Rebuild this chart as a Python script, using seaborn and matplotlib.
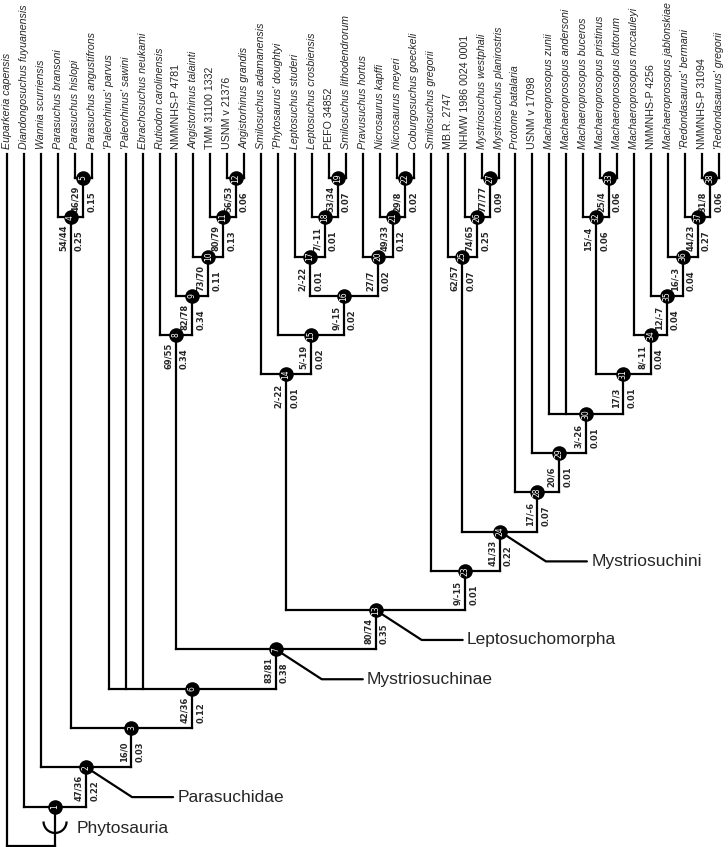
import matplotlib
matplotlib.use("Agg")
import matplotlib.pyplot as plt
import seaborn as sns
import pandas as pd
from matplotlib.patches import Arc

# tips, left to right
taxa = [
    "Euparkeria capensis", "Diandongosuchus fuyuanensis", "Wannia scurriensis",
    "Parasuchus bransoni", "Parasuchus hislopi", "Parasuchus angustifrons",
    "'Paleorhinus' parvus", "'Paleorhinus' sawini", "Ebrachosuchus neukami",
    "Rutiodon carolinensis", "NMMNHS-P 4781", "Angistorhinus talainti",
    "TMM 31100 1332", "USNM v 21376", "Angistorhinus grandis",
    "Smilosuchus adamanensis", "'Phytosaurus' doughtyi", "Leptosuchus studeri",
    "Leptosuchus crosbiensis", "PEFO 34852", "Smilosuchus lithodendrorum",
    "Pravusuchus hortus", "Nicrosaurus kapffi", "Nicrosaurus meyeri",
    "Coburgosuchus goeckeli", "Smilosuchus gregorii", "MB.R. 2747",
    "NHMW 1986 0024 0001", "Mystriosuchus westphali", "Mystriosuchus planirostris",
    "Protome batalaria", "USNM v 17098", "Machaeroprosopus zunii",
    "Machaeroprosopus andersoni", "Machaeroprosopus buceros", "Machaeroprosopus pristinus",
    "Machaeroprosopus lottorum", "Machaeroprosopus mccauleyi", "NMMNHS-P 4256",
    "Machaeroprosopus jablonskiae", "'Redondasaurus' bermani", "NMMNHS-P 31094",
    "'Redondasaurus' gregorii",
]
specimens = ["NMMNHS-P 4781", "TMM 31100 1332", "USNM v 21376", "PEFO 34852",
             "MB.R. 2747", "NHMW 1986 0024 0001", "USNM v 17098",
             "NMMNHS-P 4256", "NMMNHS-P 31094"]

# topology: node -> children (str = tip, int = node)
clades = {
    0: ["Euparkeria capensis", 1],
    1: ["Diandongosuchus fuyuanensis", 2],
    2: ["Wannia scurriensis", 3],
    3: [4, 6],
    4: ["Parasuchus bransoni", 5],
    5: ["Parasuchus hislopi", "Parasuchus angustifrons"],
    6: ["'Paleorhinus' parvus", "'Paleorhinus' sawini", "Ebrachosuchus neukami", 7],
    7: [8, 13],
    8: ["Rutiodon carolinensis", 9],
    9: ["NMMNHS-P 4781", 10],
    10: ["Angistorhinus talainti", 11],
    11: ["TMM 31100 1332", 12],
    12: ["USNM v 21376", "Angistorhinus grandis"],
    13: [14, 23],
    14: ["Smilosuchus adamanensis", 15],
    15: ["'Phytosaurus' doughtyi", 16],
    16: [17, 20],
    17: ["Leptosuchus studeri", 18],
    18: ["Leptosuchus crosbiensis", 19],
    19: ["PEFO 34852", "Smilosuchus lithodendrorum"],
    20: ["Pravusuchus hortus", 21],
    21: ["Nicrosaurus kapffi", 22],
    22: ["Nicrosaurus meyeri", "Coburgosuchus goeckeli"],
    23: ["Smilosuchus gregorii", 24],
    24: [25, 28],
    25: ["MB.R. 2747", 26],
    26: ["NHMW 1986 0024 0001", 27],
    27: ["Mystriosuchus westphali", "Mystriosuchus planirostris"],
    28: ["Protome batalaria", 29],
    29: ["USNM v 17098", 30],
    30: ["Machaeroprosopus zunii", "Machaeroprosopus andersoni", 31],
    31: [32, 34],
    32: ["Machaeroprosopus buceros", 33],
    33: ["Machaeroprosopus pristinus", "Machaeroprosopus lottorum"],
    34: ["Machaeroprosopus mccauleyi", 35],
    35: ["NMMNHS-P 4256", 36],
    36: ["Machaeroprosopus jablonskiae", 37],
    37: ["'Redondasaurus' bermani", 38],
    38: ["NMMNHS-P 31094", "'Redondasaurus' gregorii"],
}

# support values for nodes 2..38
support_nodes = list(range(2, 39))
jackknife = ["47/36", "16/0", "54/44", "46/29", "42/36", "83/81", "69/55", "82/78",
             "73/70", "80/79", "56/53", "80/74", "2/-22", "5/-19", "9/-15", "2/-22",
             "7/-11", "53/34", "27/7", "49/33", "29/8", "9/-15", "41/33", "62/57",
             "74/65", "77/77", "17/-6", "20/6", "3/-26", "17/3", "15/-4", "25/4",
             "8/-11", "12/-7", "16/-3", "44/23", "31/8"]
branch_len = ["0.22", "0.03", "0.25", "0.15", "0.12", "0.38", "0.34", "0.34",
              "0.11", "0.13", "0.06", "0.35", "0.01", "0.02", "0.02", "0.01",
              "0.01", "0.07", "0.02", "0.12", "0.02", "0.01", "0.22", "0.07",
              "0.25", "0.09", "0.07", "0.01", "0.01", "0.01", "0.06", "0.06",
              "0.04", "0.04", "0.04", "0.27", "0.06"]

clade_nodes = [2, 7, 13, 24]
clade_names = ["Parasuchidae", "Mystriosuchinae", "Leptosuchomorpha", "Mystriosuchini"]

sns.set_theme(style="white")
plt.rcParams["font.family"] = ["Liberation Sans", "DejaVu Sans"]

# layout: x = tip order, y = node height (cladogram)
tip_x = {name: i for i, name in enumerate(taxa)}
node_x, node_h = {}, {}


def place(n):
    xs, hs = [], []
    for c in clades[n]:
        if isinstance(c, str):
            xs.append(tip_x[c]); hs.append(0)
        else:
            place(c)
            xs.append(node_x[c]); hs.append(node_h[c])
    node_x[n] = (min(xs) + max(xs)) / 2
    node_h[n] = max(hs) + 1


place(0)
TIP_TOP = 0.39
LW = 1.6


def pos(c):
    if isinstance(c, str):
        return tip_x[c], TIP_TOP
    return node_x[c], node_h[c]


fig = plt.figure(figsize=(7.28, 8.47), dpi=100)
ax = fig.add_axes([0, 0, 1, 1])

for n, kids in clades.items():
    y = node_h[n]
    xs = [pos(c)[0] for c in kids]
    ax.plot([min(xs), max(xs)], [y, y], color="black", lw=LW, solid_capstyle="projecting", zorder=2)
    for c in kids:
        cx, cy = pos(c)
        ax.plot([cx, cx], [cy, y], color="black", lw=LW, solid_capstyle="projecting", zorder=2)

# node circles
nodes = pd.DataFrame({"node": list(range(1, 39))})
nodes["x"] = nodes["node"].map(node_x)
nodes["h"] = nodes["node"].map(node_h)
sns.scatterplot(data=nodes, x="x", y="h", s=110, color="black", edgecolor="black",
                linewidth=0, legend=False, zorder=5, ax=ax)
for n in nodes["node"]:
    ax.text(node_x[n], node_h[n], str(int(n)), color="white", fontsize=5.5, rotation=90,
            ha="center", va="center", zorder=6, family="DejaVu Sans")

# supports
for n, jk, bl in zip(support_nodes, jackknife, branch_len):
    ax.annotate(jk, (node_x[n], node_h[n]), xytext=(-2.2, -24.5), textcoords="offset points",
                rotation=90, ha="right", va="bottom", fontsize=6, fontweight="bold",
                family="DejaVu Sans", zorder=4)
    ax.annotate(bl, (node_x[n], node_h[n]), xytext=(3, -24.5), textcoords="offset points",
                rotation=90, ha="left", va="bottom", fontsize=6, fontweight="bold",
                family="DejaVu Sans", zorder=4)

# tip labels
for name, i in tip_x.items():
    ax.text(i, 0.27, name, rotation=90, ha="center", va="bottom", fontsize=7.7,
            style="normal" if name in specimens else "italic")

# clade names with pointer lines
for n, name in zip(clade_nodes, clade_names):
    x0, y0 = node_x[n], node_h[n]
    x1, y1 = x0 + 2.71, y0 + 0.76
    x2 = x1 + 2.42
    ax.plot([x0, x1, x2], [y0, y1, y1], color="black", lw=LW, zorder=3)
    ax.text(x2 + 0.25, y1, name, fontsize=12.5, ha="left", va="center")

# stem symbol for Phytosauria
ax.add_patch(Arc((node_x[1], node_h[1] + 0.38), 1.36, 0.585, theta1=0, theta2=180,
                 color="black", lw=LW, zorder=3))
ax.text(node_x[1] + 1.3, node_h[1] + 0.57, "Phytosauria", fontsize=12.5, ha="left", va="center")

ax.set_xlim(-0.413, 42.54)
ax.set_ylim(18.03, -3.53)
ax.axis("off")

fig.savefig("out.png", dpi=100, facecolor="white")
